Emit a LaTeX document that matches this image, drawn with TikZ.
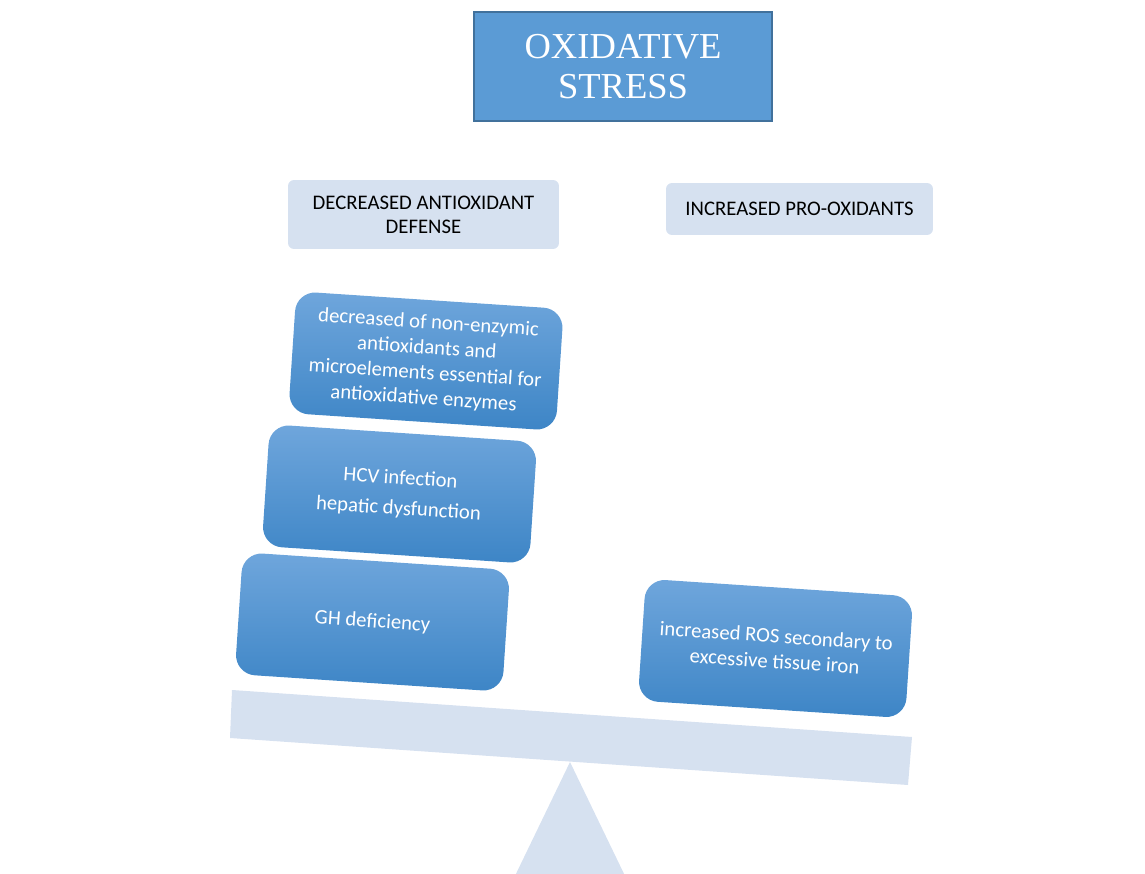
\documentclass[tikz,border=0pt]{standalone}
\usepackage{fontspec}
\setmainfont{Carlito}
\newfontfamily\titlefont{Liberation Serif}
\definecolor{topblue}{HTML}{6FA6DC}
\definecolor{botblue}{HTML}{3D85C6}
\definecolor{midblue}{HTML}{5B9BD5}
\definecolor{edgeblue}{HTML}{41719C}
\definecolor{paleblue}{HTML}{D6E1F0}
\tikzset{
  px/.style={x=0.02cm,y=-0.02cm},
  factor/.style={rounded corners=0.4cm, top color=topblue, bottom color=botblue,
    minimum width=5.36cm, minimum height=2.44cm, inner sep=0pt, align=center,
    text=white, font=\fontsize{11.8}{14.4}\selectfont, rotate=-3.8},
  header/.style={rounded corners=0.12cm, fill=paleblue, inner sep=0pt, align=center,
    text=black, font=\fontsize{11.8}{13.8}\selectfont},
  title/.style={fill=midblue, draw=edgeblue, line width=1.4pt, inner sep=0pt,
    minimum width=5.96cm, minimum height=2.18cm, align=center, text=white,
    font=\titlefont\fontsize{20.8}{23}\selectfont},
  scalepart/.style={fill=paleblue}
}
\begin{document}
\begin{tikzpicture}[px]
\useasboundingbox (0,0) rectangle (1145,874);
% balance
\fill[scalepart] (570,762) -- (513,880) -- (627,880) -- cycle;
\fill[scalepart] (232,690) -- (912,737) -- (908,785) -- (230,738) -- cycle;
% title
\node[title] (ox) at (623,66.5) {OXIDATIVE\\STRESS};
% headers
\node[header, minimum width=5.42cm, minimum height=1.38cm] (dec) at (423.5,214.5)
  {DECREASED ANTIOXIDANT\\DEFENSE};
\node[header, minimum width=5.34cm, minimum height=1.04cm] (inc) at (799.5,209)
  {INCREASED PRO-OXIDANTS};
% factors
\node[factor] (f1) at (426,361) {decreased of non-enzymic\\antioxidants and\\microelements essential for\\antioxidative enzymes};
\node[factor] (f2) at (399.5,494) {HCV infection\\[3pt]hepatic dysfunction};
\node[factor] (f3) at (372.5,622) {GH deficiency};
\node[factor] (f4) at (775.5,648.5) {increased ROS secondary to\\excessive tissue iron};
\end{tikzpicture}
\end{document}
